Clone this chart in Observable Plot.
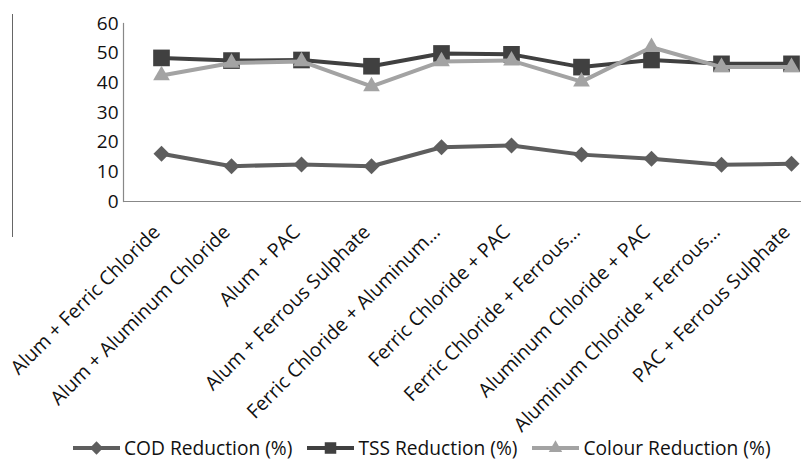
<!DOCTYPE html>
<html>
<head>
<meta charset="utf-8">
<script src="https://cdn.jsdelivr.net/npm/d3@7"></script>
<script src="https://cdn.jsdelivr.net/npm/@observablehq/plot@0.6"></script>
<style>
  html, body { margin: 0; padding: 0; background: #fff; }
  #wrap { position: relative; width: 801px; height: 461px; font-family: "Open Sans", sans-serif; }
  #stray { position: absolute; left: 12px; top: 14px; width: 0; height: 223px; border-left: 1.5px solid #666; }
  #legend { position: absolute; left: 73px; top: 438px; display: flex; align-items: center; gap: 15px; font-size: 19.2px; color: #111; line-height: 20px; white-space: nowrap; }
  .item { display: flex; align-items: center; gap: 4px; }
</style>
</head>
<body>
<div id="wrap">
  <div id="stray"></div>
  <div id="chart"></div>
  <div id="legend"></div>
</div>
<script>
const categories = [
  "Alum + Ferric Chloride",
  "Alum + Aluminum Chloride",
  "Alum + PAC",
  "Alum + Ferrous Sulphate",
  "Ferric Chloride + Aluminum…",
  "Ferric Chloride + PAC",
  "Ferric Chloride + Ferrous…",
  "Aluminum Chloride + PAC",
  "Aluminum Chloride + Ferrous…",
  "PAC + Ferrous Sulphate"
];
const codReduction = [16.1, 11.9, 12.5, 11.9, 18.3, 18.9, 15.8, 14.4, 12.4, 12.7];
const tssReduction = [48.4, 47.5, 47.7, 45.6, 49.9, 49.6, 45.3, 47.7, 46.4, 46.4];
const colourReduction = [42.5, 46.7, 47.2, 38.8, 47.2, 47.5, 40.4, 52.0, 45.3, 45.3];
const seriesNames = ["COD Reduction (%)", "TSS Reduction (%)", "Colour Reduction (%)"];
const yTicks = [0, 10, 20, 30, 40, 50, 60];

const seriesStyle = [
  {name: seriesNames[0], values: codReduction, color: "#5e5e5e", symbol: "diamond2", r: 7.2},
  {name: seriesNames[1], values: tssReduction, color: "#404040", symbol: "square", r: 9.4},
  {name: seriesNames[2], values: colourReduction, color: "#a3a3a3", symbol: "triangle", r: 6.2}
];

const marks = [
  Plot.frame({anchor: "left", stroke: "#888", strokeWidth: 1.2}),
  Plot.ruleY([0], {stroke: "#888", strokeWidth: 1.2}),
  Plot.axisY({ticks: yTicks, tickSize: 0, tickPadding: 5, fontSize: 19, fill: "#111", label: null}),
  Plot.text(categories, {
    x: d => d, y: () => 0, text: d => d,
    rotate: -45, textAnchor: "end", lineAnchor: "top",
    dx: -10, dy: 22, fontSize: 19.5, fill: "#111"
  })
];
for (const s of seriesStyle) {
  const data = categories.map((c, i) => ({c, v: s.values[i]}));
  marks.push(Plot.line(data, {x: "c", y: "v", stroke: s.color, strokeWidth: 4}));
  marks.push(Plot.dot(data, {x: "c", y: "v", symbol: () => s.symbol, fill: s.color, r: s.r, stroke: "none"}));
}

const chart = Plot.plot({
  width: 801,
  height: 420,
  marginLeft: 123,
  marginRight: 0,
  marginTop: 23,
  marginBottom: 219,
  style: {fontFamily: "Open Sans, sans-serif", background: "#fff", overflow: "visible"},
  x: {type: "point", domain: categories, range: [123, 829], padding: 0.5, axis: null},
  y: {domain: [0, 60], ticks: yTicks},
  marks
});
document.getElementById("chart").appendChild(chart);

const legend = document.getElementById("legend");
const symPaths = {
  "diamond2": d3.symbol(d3.symbolDiamond2, Math.PI * 6 * 6)(),
  "square": d3.symbol(d3.symbolSquare, Math.PI * 6.5 * 6.5)(),
  "triangle": d3.symbol(d3.symbolTriangle, Math.PI * 5 * 5)()
};
for (const s of seriesStyle) {
  const item = document.createElement("div");
  item.className = "item";
  item.innerHTML = `<svg width="47" height="20" viewBox="0 0 47 20"><line x1="0" x2="47" y1="10" y2="10" stroke="${s.color}" stroke-width="4"/><path transform="translate(23.5,10)" d="${symPaths[s.symbol]}" fill="${s.color}"/></svg><span>${s.name}</span>`;
  legend.appendChild(item);
}
</script>
</body>
</html>
